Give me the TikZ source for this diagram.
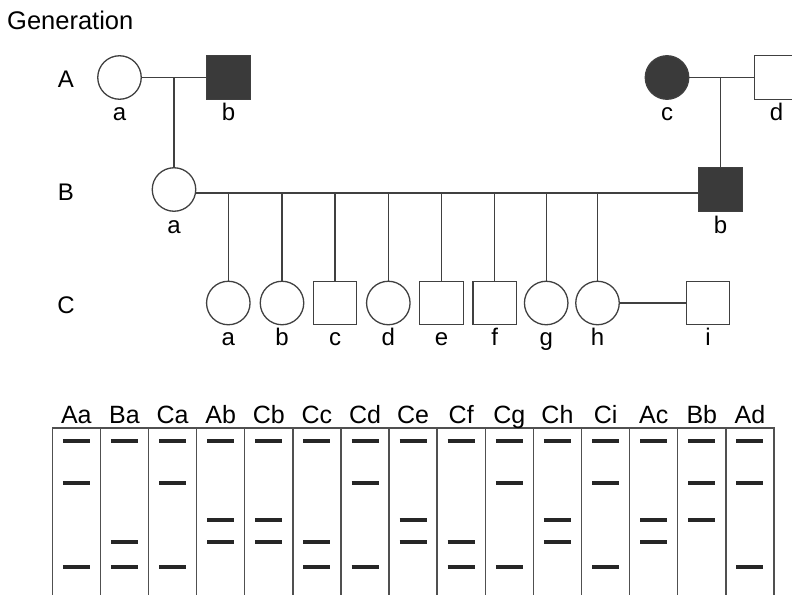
\documentclass[tikz,border=0pt]{standalone}
\usepackage{fontspec}
\setmainfont{Liberation Sans}
\definecolor{lc}{HTML}{404040}
\definecolor{af}{HTML}{3A3A3A}
\definecolor{gc}{HTML}{505050}
\tikzset{
  pline/.style={draw=lc, line width=1.3pt},
  fem/.style={circle, draw=lc, line width=1.3pt, minimum size=43.5pt, inner sep=0pt, fill=white},
  mal/.style={rectangle, draw=lc, line width=1.3pt, minimum size=43.5pt, inner sep=0pt, fill=white},
  aff/.style={fill=af},
  lbl/.style={font=\fontsize{24}{28}\selectfont, inner sep=0pt, anchor=base},
  glbl/.style={font=\fontsize{25}{29}\selectfont, inner sep=0pt, anchor=base},
  gelline/.style={draw=gc, line width=1.4pt},
  band/.style={draw=black!85, line width=4pt}
}
\begin{document}
\begin{tikzpicture}[x=1pt,y=-1pt]
\useasboundingbox (0,0) rectangle (792,594);
\clip (0,0) rectangle (792,594);

\node[glbl, anchor=base west, font=\fontsize{25.5}{30}\selectfont] (gen) at (7,29.5) {Generation};
\node[lbl] (gA) at (66,87) {A};
\node[lbl] (gB) at (66,200) {B};
\node[lbl] (gC) at (66,313) {C};

% generation A
\node[fem] (Aa) at (119.5,77.5) {};
\node[mal,aff] (Ab) at (228.5,77.5) {};
\node[fem,aff] (Ac) at (667,77.5) {};
\node[mal] (Ad) at (776.5,77.5) {};
% generation B
\node[fem] (Ba) at (174,189.5) {};
\node[mal,aff] (Bb) at (720.5,189.5) {};
% generation C
\node[fem] (Ca) at (228.3,303) {};
\node[fem] (Cb) at (282,303) {};
\node[mal] (Cc) at (335,303) {};
\node[fem] (Cd) at (388.3,303) {};
\node[mal] (Ce) at (441.5,303) {};
\node[mal] (Cf) at (494.8,303) {};
\node[fem] (Cg) at (546.2,303) {};
\node[fem] (Ch) at (597.5,303) {};
\node[mal] (Ci) at (708,303) {};

% labels
\foreach \n/\t in {Aa/a,Ab/b,Ac/c,Ad/d}{
  \node[lbl] (l\n) at ([yshift=-21pt]\n.south) {\t};
}
\foreach \n/\t in {Ba/a,Bb/b}{
  \node[lbl] (l\n) at ([yshift=-22pt]\n.south) {\t};
}
\foreach \n/\t in {Ca/a,Cb/b,Cc/c,Cd/d,Ce/e,Cf/f,Cg/g,Ch/h,Ci/i}{
  \node[lbl] (l\n) at ([yshift=-20.5pt]\n.south) {\t};
}

% connectors
\draw[pline] (Aa.east) -- (Ab.west);
\draw[pline] (Aa.east -| Ba.north) -- (Ba.north);
\draw[pline] (Ac.east) -- (Ad.west);
\draw[pline] (Ac.east -| Bb.north) -- (Bb.north);
\coordinate (sib) at ([yshift=-3.5pt]Ba.east);
\draw[pline] (sib) -- ([yshift=-3.5pt]Bb.west);
\foreach \c in {Ca,Cb,Cc,Cd,Ce,Cf,Cg,Ch}{
  \draw[pline] (sib -| \c.north) -- (\c.north);
}
\draw[pline] (Ch.east) -- (Ci.west);

% gel
\def\gx{52.3}
\def\gw{48.11}
\draw[gelline] (\gx,600) -- (\gx,428) -- ({\gx+15*\gw},428) -- ({\gx+15*\gw},600);
\foreach \k in {1,...,14}{
  \draw[gelline] ({\gx+\k*\gw},428) -- ({\gx+\k*\gw},600);
}
\foreach \t [count=\i from 0] in {Aa,Ba,Ca,Ab,Cb,Cc,Cd,Ce,Cf,Cg,Ch,Ci,Ac,Bb,Ad}{
  \node[glbl] (lane\t) at ({\gx+(\i+0.5)*\gw},423) {\t};
}
\foreach \i in {0,...,14}{
  \draw[band] ({\gx+(\i+0.5)*\gw-13.5},441) -- ++(27,0);
}
\foreach \i in {0,2,6,9,11,13,14}{
  \draw[band] ({\gx+(\i+0.5)*\gw-13.5},482.5) -- ++(27,0);
}
\foreach \i in {3,4,7,10,12,13}{
  \draw[band] ({\gx+(\i+0.5)*\gw-13.5},519.5) -- ++(27,0);
}
\foreach \i in {1,3,4,5,7,8,10,12}{
  \draw[band] ({\gx+(\i+0.5)*\gw-13.5},541.5) -- ++(27,0);
}
\foreach \i in {0,1,2,5,6,8,9,11,14}{
  \draw[band] ({\gx+(\i+0.5)*\gw-13.5},566.5) -- ++(27,0);
}
\end{tikzpicture}
\end{document}
